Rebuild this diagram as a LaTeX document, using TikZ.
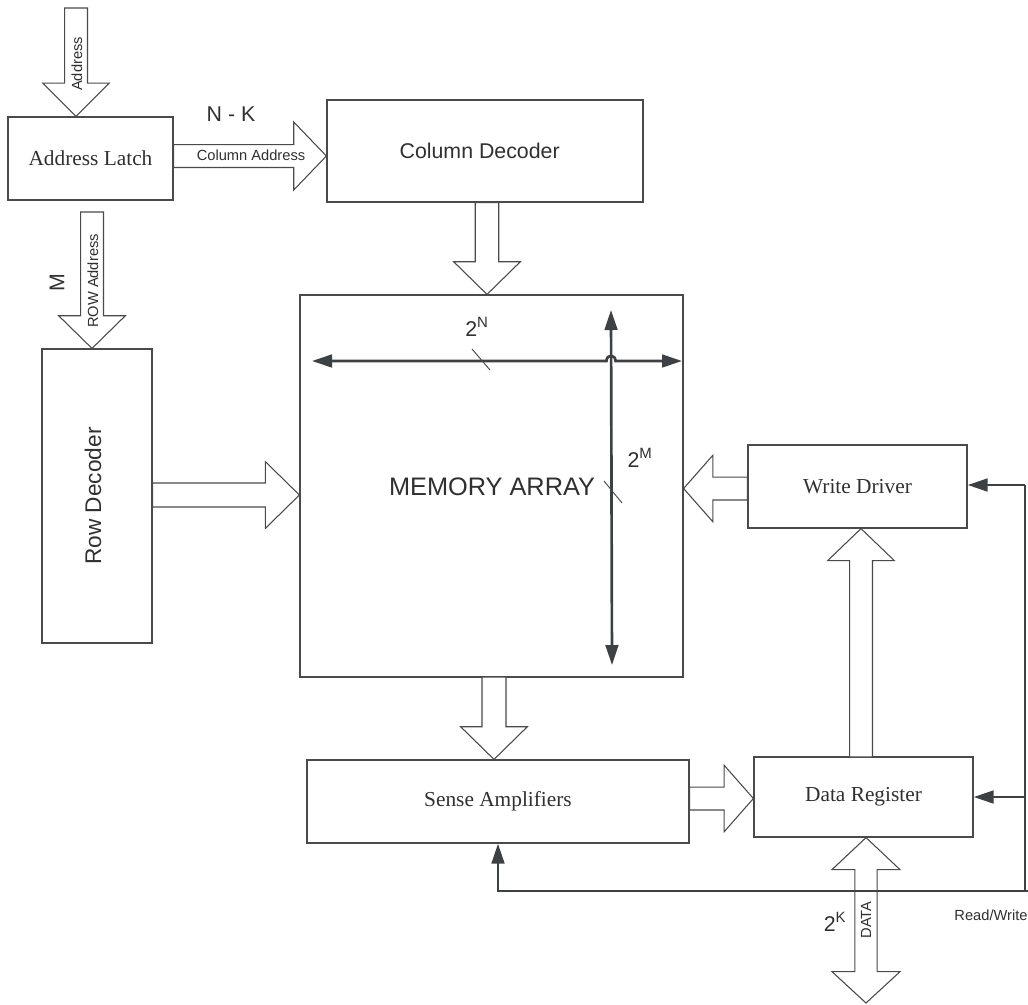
\documentclass[tikz,border=0pt]{standalone}
\usepackage{fontspec}
\setmainfont{Liberation Serif}
\setsansfont{Liberation Sans}
\usepackage{graphicx}
\usetikzlibrary{calc,arrows.meta}

\definecolor{ink}{HTML}{4A4A4A}
\definecolor{sigc}{HTML}{3C4146}
\definecolor{txt}{HTML}{303030}

\tikzset{
  box/.style={draw=ink, line width=0.9pt, fill=white, inner sep=0pt, text=txt,
              font=\fontsize{16}{18}\selectfont},
  fat/.style={draw=ink, line width=0.8pt, fill=white, line join=miter},
  sigline/.style={draw=sigc, line width=2pt},
  small/.style={font=\sffamily\fontsize{11}{13}\selectfont, text=txt, inner sep=0pt},
  mid/.style={font=\sffamily\fontsize{16}{18}\selectfont, text=txt, inner sep=0pt},
  tick/.style={draw=ink, line width=0.7pt},
  >={Triangle[length=15pt,width=9.5pt]}
}

% block arrow from #1 to tip #2: shaft half width #3, head half width #4, head length #5
\newcommand\fatarrow[5]{%
  \path ($#2!#5!#1$) coordinate (fa-h);
  \draw[fat] ($#1!#3!90:#2$) -- ($(fa-h)!#3!90:#2$) -- ($(fa-h)!#4!90:#2$) -- #2
    -- ($(fa-h)!#4!-90:#2$) -- ($(fa-h)!#3!-90:#2$) -- ($#1!#3!-90:#2$) -- cycle;}

\begin{document}
\begin{tikzpicture}[x=0.75pt,y=-0.75pt]
\useasboundingbox (0,0) rectangle (1028,1004);

% functional blocks
\node[box, minimum width=165*0.75pt, minimum height=83*0.75pt] (latch) at (90.5,158.5) {Address Latch};
\node[box, font=\sffamily\fontsize{16}{18}\selectfont, minimum width=316*0.75pt, minimum height=102*0.75pt] (coldec) at (485,151) {Column Decoder\hspace*{8pt}};
\node[box, minimum width=110*0.75pt, minimum height=294*0.75pt] (rowdec) at (97,496)
  {\rotatebox{90}{\sffamily\fontsize{17}{19}\selectfont Row Decoder}\hspace*{6pt}};
\node[box, minimum width=383*0.75pt, minimum height=382*0.75pt] (mem) at (491.5,486) {};
\node[box, minimum width=219*0.75pt, minimum height=83*0.75pt] (wd) at (857.5,486.5) {Write Driver};
\node[box, minimum width=382*0.75pt, minimum height=83*0.75pt] (sense) at (498,801.5) {Sense Amplifiers};
\node[box, minimum width=219*0.75pt, minimum height=80*0.75pt] (dr) at (863.5,797) {Data Register};

% free ends and bend points
\coordinate (addrin) at (76,8);
\coordinate (rowin) at (92,212);
\coordinate (mdown) at (494,677);
\coordinate (drup) at (861,757);
\coordinate (dataout) at (866,1003);
\coordinate (rwtop) at (1025,485);
\coordinate (rwbot) at (1025,891);
\coordinate (rwedge) at (1028,891);

% block arrows
\fatarrow{(addrin)}{(addrin |- latch.north)}{8.6pt}{25pt}{25pt}
\fatarrow{(latch.east |- 0,156)}{(coldec.west |- 0,156)}{8.6pt}{25.5pt}{24.5pt}
\fatarrow{(487,0 |- coldec.south)}{(487,0 |- mem.north)}{8.8pt}{25pt}{24.5pt}
\fatarrow{(rowin)}{(rowin |- rowdec.north)}{8.6pt}{25pt}{24.5pt}
\fatarrow{(rowdec.east |- 0,495)}{(mem.west |- 0,495)}{9pt}{25pt}{25.5pt}
\fatarrow{(mdown)}{(mdown |- sense.north)}{9pt}{25pt}{24.5pt}
\fatarrow{(sense.east |- 0,798.5)}{(dr.west |- 0,798.5)}{8.6pt}{25pt}{22pt}
\fatarrow{(drup)}{(drup |- wd.south)}{8.6pt}{25pt}{24pt}
\fatarrow{(wd.west |- 0,488.5)}{(mem.east |- 0,488.5)}{8.6pt}{25pt}{22pt}

% bidirectional data port
\coordinate (dtop) at (dataout |- dr.south);
\path ($(dtop)!24pt!(dataout)$) coordinate (dh1) ($(dataout)!23.5pt!(dtop)$) coordinate (dh2);
\draw[fat] (dtop) -- ($(dh1)!25.5pt!90:(dataout)$) -- ($(dh1)!8.3pt!90:(dataout)$)
  -- ($(dh2)!8.3pt!-90:(dtop)$) -- ($(dh2)!25.5pt!-90:(dtop)$) -- (dataout)
  -- ($(dh2)!25.5pt!90:(dtop)$) -- ($(dh2)!8.3pt!90:(dtop)$)
  -- ($(dh1)!8.3pt!-90:(dataout)$) -- ($(dh1)!25.5pt!-90:(dataout)$) -- cycle;

% bus labels
\node[small, rotate=90] (laddr) at (77,64) {Address};
\node[small] (lcol) at (251,155) {Column Address};
\node[mid] (lnk) at (231,114) {N - K};
\node[small, rotate=90] (lrow) at (93,281) {ROW Address};
\node[mid, rotate=90] (lm) at (57,283) {M};
\node[small, rotate=90] (ldata) at (866,920) {DATA};
\node[mid] (l2k) at (835,922) {2\textsuperscript{K}};
\node[small] (lrw) at (991,915) {Read/Write};

% array dimensions
\node[font=\sffamily\fontsize{19}{21}\selectfont, text=txt, inner sep=0pt] (memlbl) at (492,487) {MEMORY ARRAY};
\node[mid] (l2n) at (477,327) {2\textsuperscript{N}};
\node[mid] (l2m) at (640,458) {2\textsuperscript{M}};
\coordinate (hl) at (312,361);
\coordinate (hr) at (682,361);
\coordinate (vt) at (611,310);
\coordinate (vb) at (612,665);
\draw[sigline,<->] (hl) -- (606.5,361) .. controls (606.5,354) and (615.5,354) .. (615.5,361) -- (hr);
\draw[sigline,<->] (vt) -- (vb);
\draw[tick] (472,349) -- (490,370);
\draw[tick] (604,481) -- (622,503);

% read/write control
\draw[sigline] (rwbot) -- (rwtop);
\draw[sigline,->] (rwtop) -- (rwtop -| wd.east);
\draw[sigline,->] (rwtop |- dr.east) -- (dr.east);
\draw[sigline,->] (rwedge) -| (sense.south);
\end{tikzpicture}
\end{document}
